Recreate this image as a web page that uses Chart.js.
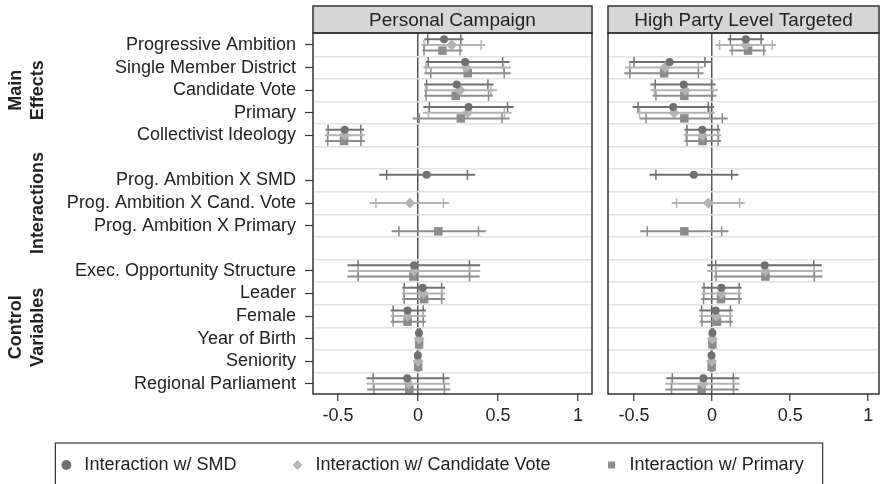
<!DOCTYPE html>
<html>
<head>
<meta charset="utf-8">
<script src="https://cdn.jsdelivr.net/npm/chart.js@4.4.1/dist/chart.umd.min.js"></script>
<style>
  html, body { margin: 0; padding: 0; background: #fff; }
  #wrap { position: relative; width: 885px; height: 484px; overflow: hidden; }
  canvas { position: absolute; top: 0; }
  #left { left: 0; }
  #right { left: 596px; }
  #legend { left: 0; top: 404px; }
</style>
</head>
<body>
<div id="wrap">
  <canvas id="left" width="885" height="484"></canvas>
  <canvas id="right" width="289" height="440"></canvas>
  <canvas id="legend" width="885" height="200"></canvas>
</div>
<script>
// rows of the plot, top to bottom ('' = spacer between groups)
const rowLabels = ['Progressive Ambition', 'Single Member District', 'Candidate Vote', 'Primary',
  'Collectivist Ideology', '', 'Prog. Ambition X SMD', 'Prog. Ambition X Cand. Vote',
  'Prog. Ambition X Primary', '', 'Exec. Opportunity Structure', 'Leader', 'Female',
  'Year of Birth', 'Seniority', 'Regional Parliament'];
const groups = [
  { lines: ['Main', 'Effects'], first: 0, last: 4 },
  { lines: ['Interactions'], first: 6, last: 8 },
  { lines: ['Control', 'Variables'], first: 10, last: 15 }
];
const panelTitles = ['Personal Campaign', 'High Party Level Targeted'];
const seriesNames = ['Interaction w/ SMD', 'Interaction w/ Candidate Vote', 'Interaction w/ Primary'];
const xTicks = [-0.5, 0, 0.5, 1];

// each row: [estimate, lo95, lo90, hi90, hi95], null = not in that model
const campSMD = [
  [0.163, 0.040, 0.061, 0.268, 0.284],
  [0.295, 0.050, 0.064, 0.529, 0.573],
  [0.242, 0.038, 0.054, 0.437, 0.472],
  [0.316, 0.033, 0.071, 0.560, 0.598],
  [-0.458, -0.577, -0.562, -0.357, -0.337],
  null,
  [0.054, -0.242, -0.196, 0.309, 0.357],
  null, null, null,
  [-0.025, -0.441, -0.374, 0.322, 0.389],
  [0.029, -0.098, -0.086, 0.148, 0.169],
  [-0.065, -0.171, -0.155, 0.033, 0.050],
  [0.006, -0.004, -0.002, 0.014, 0.016],
  [-0.001, -0.008, -0.006, 0.004, 0.006],
  [-0.067, -0.322, -0.280, 0.159, 0.197]
];
const campCand = [
  [0.211, 0.023, 0.038, 0.395, 0.420],
  [0.301, 0.033, 0.050, 0.535, 0.581],
  [0.263, 0.038, 0.050, 0.456, 0.493],
  [0.310, 0.030, 0.065, 0.540, 0.585],
  [-0.458, -0.583, -0.566, -0.353, -0.332],
  null, null,
  [-0.050, -0.301, -0.263, 0.159, 0.194],
  null, null,
  [-0.025, -0.437, -0.374, 0.322, 0.389],
  [0.033, -0.100, -0.086, 0.148, 0.169],
  [-0.065, -0.171, -0.155, 0.033, 0.050],
  [0.007, -0.004, -0.002, 0.014, 0.016],
  [0.001, -0.006, -0.004, 0.005, 0.007],
  [-0.060, -0.322, -0.280, 0.165, 0.200]
];
const campPrim = [
  [0.153, 0.027, 0.038, 0.263, 0.278],
  [0.311, 0.040, 0.080, 0.539, 0.580],
  [0.236, 0.040, 0.050, 0.441, 0.468],
  [0.268, -0.033, 0.008, 0.525, 0.573],
  [-0.462, -0.580, -0.564, -0.357, -0.332],
  null, null, null,
  [0.127, -0.165, -0.119, 0.378, 0.424],
  null,
  [-0.029, -0.441, -0.374, 0.322, 0.385],
  [0.038, -0.098, -0.086, 0.148, 0.169],
  [-0.065, -0.171, -0.155, 0.033, 0.050],
  [0.007, -0.004, -0.002, 0.014, 0.016],
  [0.001, -0.006, -0.004, 0.005, 0.007],
  [-0.054, -0.318, -0.275, 0.165, 0.202]
];
const partySMD = [
  [0.216, 0.100, 0.117, 0.314, 0.331],
  [-0.272, -0.532, -0.500, -0.046, -0.004],
  [-0.182, -0.395, -0.364, -0.004, 0.023],
  [-0.249, -0.510, -0.475, -0.025, 0.013],
  [-0.063, -0.178, -0.161, 0.038, 0.052],
  null,
  [-0.117, -0.402, -0.360, 0.126, 0.169],
  null, null, null,
  [0.337, -0.031, 0.023, 0.651, 0.703],
  [0.059, -0.067, -0.052, 0.174, 0.188],
  [0.023, -0.082, -0.067, 0.117, 0.132],
  [0.002, -0.006, -0.004, 0.008, 0.010],
  [-0.004, -0.010, -0.008, 0.001, 0.003],
  [-0.056, -0.293, -0.255, 0.136, 0.174]
];
const partyCand = [
  [0.216, 0.023, 0.048, 0.385, 0.410],
  [-0.301, -0.559, -0.527, -0.088, -0.056],
  [-0.171, -0.395, -0.370, 0.004, 0.038],
  [-0.245, -0.485, -0.465, -0.015, 0.017],
  [-0.063, -0.182, -0.167, 0.042, 0.057],
  null, null,
  [-0.025, -0.259, -0.228, 0.176, 0.209],
  null, null,
  [0.341, -0.031, 0.023, 0.651, 0.707],
  [0.059, -0.067, -0.052, 0.174, 0.188],
  [0.027, -0.082, -0.067, 0.117, 0.132],
  [0.002, -0.006, -0.004, 0.008, 0.010],
  [-0.003, -0.010, -0.008, 0.002, 0.004],
  [-0.056, -0.300, -0.260, 0.140, 0.178]
];
const partyPrim = [
  [0.230, 0.111, 0.128, 0.331, 0.345],
  [-0.308, -0.563, -0.527, -0.088, -0.056],
  [-0.178, -0.381, -0.360, 0.000, 0.027],
  [-0.178, -0.465, -0.423, 0.065, 0.100],
  [-0.061, -0.178, -0.161, 0.038, 0.057],
  null, null, null,
  [-0.178, -0.460, -0.416, 0.061, 0.105],
  null,
  [0.341, 0.011, 0.025, 0.655, 0.707],
  [0.057, -0.070, -0.055, 0.174, 0.190],
  [0.031, -0.080, -0.065, 0.117, 0.132],
  [0.002, -0.006, -0.004, 0.008, 0.010],
  [-0.003, -0.010, -0.008, 0.002, 0.004],
  [-0.067, -0.300, -0.260, 0.136, 0.170]
];

const FONT = '"Liberation Sans", Arial, Helvetica, sans-serif';
Chart.defaults.font.family = FONT;
Chart.defaults.font.size = 18;
Chart.defaults.color = '#222';

const styles = [
  { pointStyle: 'circle', radius: 4, color: '#707070' },
  { pointStyle: 'rectRot', radius: 5.5, color: '#b3b3b3' },
  { pointStyle: 'rect', radius: 6, color: '#8c8c8c' }
];
const dodge = [-0.25, 0, 0.25];

function toPoints(rows, k) {
  const out = [];
  rows.forEach((v, i) => {
    if (!v) return;
    out.push({ x: v[0], y: i + dodge[k], lo95: v[1], lo90: v[2], hi90: v[3], hi95: v[4] });
  });
  return out;
}

function makeDatasets(seriesRows) {
  return seriesRows.map((rows, k) => ({
    type: 'scatter',
    label: seriesNames[k],
    data: toPoints(rows, k),
    pointStyle: styles[k].pointStyle,
    pointRadius: styles[k].radius,
    backgroundColor: styles[k].color,
    borderColor: styles[k].color,
    borderWidth: 0
  }));
}

// confidence intervals: line to the 95% bounds, tick marks at the 90% bounds
const errorBars = {
  id: 'errorBars',
  beforeDatasetsDraw(chart) {
    const ctx = chart.ctx, xs = chart.scales.x, ys = chart.scales.y;
    chart.data.datasets.forEach(ds => {
      ctx.save();
      ctx.strokeStyle = ds.borderColor;
      ds.data.forEach(d => {
        const y = ys.getPixelForValue(d.y);
        ctx.lineWidth = 2;
        ctx.beginPath();
        ctx.moveTo(xs.getPixelForValue(d.lo95), y);
        ctx.lineTo(xs.getPixelForValue(d.hi95), y);
        ctx.stroke();
        ctx.lineWidth = 1.5;
        [d.lo90, d.hi90].forEach(v => {
          const x = xs.getPixelForValue(v);
          ctx.beginPath();
          ctx.moveTo(x, y - 5);
          ctx.lineTo(x, y + 5);
          ctx.stroke();
        });
      });
      ctx.restore();
    });
  }
};

// panel box and grey title strip
const panelFrame = {
  id: 'panelFrame',
  afterDraw(chart, args, opts) {
    const { ctx, chartArea: a } = chart;
    const top = 6;
    ctx.save();
    ctx.fillStyle = '#d6d6d6';
    ctx.fillRect(a.left, top, a.right - a.left, a.top - top);
    ctx.strokeStyle = '#333';
    ctx.lineWidth = 1.5;
    ctx.strokeRect(a.left, top, a.right - a.left, a.top - top);
    ctx.strokeRect(a.left, a.top, a.right - a.left, a.bottom - a.top);
    ctx.fillStyle = '#222';
    ctx.font = '19px ' + FONT;
    ctx.textAlign = 'center';
    ctx.textBaseline = 'middle';
    ctx.fillText(opts.title, (a.left + a.right) / 2, (top + a.top) / 2 + 1);
    ctx.restore();
  }
};

// rotated bold group names
const groupNames = {
  id: 'groupNames',
  afterDraw(chart) {
    const ctx = chart.ctx, ys = chart.scales.y;
    ctx.save();
    ctx.fillStyle = '#222';
    ctx.font = 'bold 18px ' + FONT;
    ctx.textAlign = 'center';
    ctx.textBaseline = 'middle';
    groups.forEach(g => {
      const yc = ys.getPixelForValue((g.first + g.last) / 2);
      const n = g.lines.length;
      g.lines.forEach((t, i) => {
        ctx.save();
        ctx.translate(38.5 - (n - 1 - i) * 22, yc);
        ctx.rotate(-Math.PI / 2);
        ctx.fillText(t, 0, 0);
        ctx.restore();
      });
    });
    ctx.restore();
  }
};

// frame around the legend row
const legendFrame = {
  id: 'legendFrame',
  afterDraw(chart) {
    const hb = chart.legend.legendHitBoxes;
    if (!hb || !hb.length) return;
    const ctx = chart.ctx, last = hb[hb.length - 1];
    const l = hb[0].left - 2, r = last.left + last.width + 19;
    const cy = hb[0].top + hb[0].height / 2;
    ctx.save();
    ctx.strokeStyle = '#333';
    ctx.lineWidth = 1.2;
    ctx.strokeRect(l, cy - 22, r - l, 80);
    ctx.restore();
  }
};

function xScale(min, max) {
  return {
    type: 'linear', position: 'bottom', min: min, max: max,
    afterBuildTicks: s => { s.ticks = xTicks.map(v => ({ value: v })); },
    afterFit: s => { s.height = 33; },
    ticks: { autoSkip: false, maxRotation: 0, padding: 4, color: '#222',
      callback: v => String(v) },
    grid: { color: c => (c.tick && c.tick.value === 0) ? '#555' : 'rgba(0,0,0,0)',
      lineWidth: 1.5, tickColor: '#333', tickLength: 7, tickWidth: 1.2 },
    border: { display: false }
  };
}

const yMin = -0.53, yMax = 15.45;
const labelledRows = rowLabels.map((t, i) => t ? i : null).filter(v => v !== null);
const halfRows = rowLabels.slice(0, -1).map((t, i) => i + 0.5);

function gridScale(width) {
  return {
    type: 'linear', position: 'left', reverse: true, min: yMin, max: yMax,
    afterBuildTicks: s => { s.ticks = halfRows.map(v => ({ value: v })); },
    afterFit: s => { s.width = width; },
    ticks: { display: false },
    grid: { color: '#e2e2e2', lineWidth: 1.5, drawTicks: false },
    border: { display: false }
  };
}

new Chart(document.getElementById('left'), {
  type: 'scatter',
  data: { datasets: makeDatasets([campSMD, campCand, campPrim]) },
  options: {
    responsive: false, animation: false,
    layout: { padding: { top: 33, bottom: 57, left: 0, right: 293 } },
    scales: {
      x: xScale(-0.656, 1.0875),
      y: {
        type: 'linear', position: 'left', reverse: true, min: yMin, max: yMax,
        afterBuildTicks: s => { s.ticks = labelledRows.map(v => ({ value: v })); },
        afterFit: s => { s.width = 313; },
        ticks: { autoSkip: false, padding: 9, color: '#222', callback: v => rowLabels[v] },
        grid: { drawOnChartArea: false, tickColor: '#333', tickLength: 8, tickWidth: 1.2 },
        border: { display: false }
      },
      yGrid: gridScale(0)
    },
    plugins: {
      legend: { display: false },
      tooltip: { enabled: false },
      panelFrame: { title: panelTitles[0] }
    }
  },
  plugins: [errorBars, panelFrame, groupNames]
});

new Chart(document.getElementById('right'), {
  type: 'scatter',
  data: { datasets: makeDatasets([partySMD, partyCand, partyPrim]) },
  options: {
    responsive: false, animation: false,
    layout: { padding: { top: 33, bottom: 13, left: 0, right: 1 } },
    scales: {
      x: xScale(-0.667, 1.069),
      y: gridScale(12)
    },
    plugins: {
      legend: { display: false },
      tooltip: { enabled: false },
      panelFrame: { title: panelTitles[1] }
    }
  },
  plugins: [errorBars, panelFrame]
});

// shared legend below both panels
new Chart(document.getElementById('legend'), {
  type: 'scatter',
  data: { datasets: makeDatasets([[], [], []]) },
  options: {
    responsive: false, animation: false,
    layout: { padding: { top: 0, bottom: 0, left: 0, right: 24 } },
    scales: { x: { display: false }, y: { display: false } },
    plugins: {
      legend: {
        display: true, position: 'top',
        labels: { usePointStyle: true, boxWidth: 18, boxHeight: 7, padding: 52, color: '#222' }
      },
      tooltip: { enabled: false }
    }
  },
  plugins: [legendFrame]
});
</script>
</body>
</html>
